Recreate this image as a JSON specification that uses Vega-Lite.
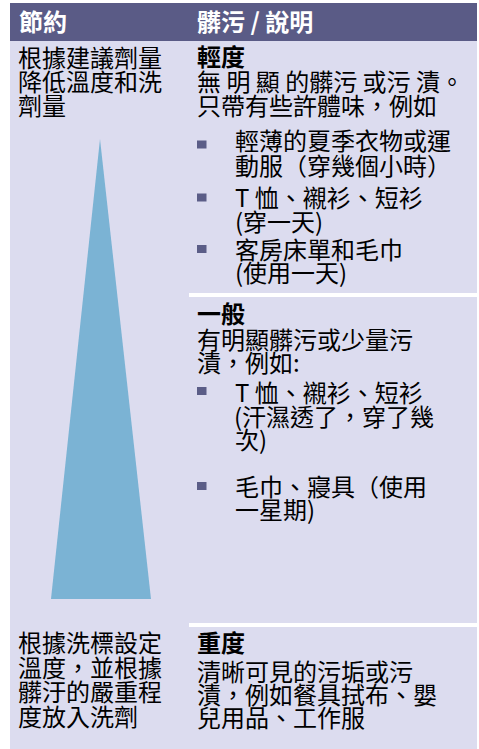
{
  "$schema": "https://vega.github.io/schema/vega-lite/v6.json",
  "width": 479,
  "height": 749,
  "autosize": {"type": "fit", "contains": "padding"},
  "padding": 0,
  "background": "white",
  "config": {"view": {"stroke": null}},
  "datasets": {
    "boxes": [
      {"kind": "panel", "x": 10, "x2": 477, "y": 3, "y2": 749},
      {"kind": "header", "x": 10, "x2": 477, "y": 3, "y2": 41},
      {"kind": "divider", "x": 189, "x2": 477, "y": 293, "y2": 297},
      {"kind": "divider", "x": 189, "x2": 477, "y": 623, "y2": 627},
      {"kind": "bullet", "x": 197, "x2": 206.5, "y": 140.5, "y2": 148.5},
      {"kind": "bullet", "x": 197, "x2": 206.5, "y": 193.5, "y2": 201.5},
      {"kind": "bullet", "x": 197, "x2": 206.5, "y": 245, "y2": 253},
      {"kind": "bullet", "x": 197, "x2": 206.5, "y": 387, "y2": 395},
      {"kind": "bullet", "x": 197, "x2": 206.5, "y": 482, "y2": 490}
    ],
    "wedge": [
      {"y": 139, "x": 100, "x2": 100},
      {"y": 599, "x": 51, "x2": 151}
    ],
    "lines": [
      {"kind": "header", "text": "節約", "x": 19, "y": 22},
      {"kind": "header", "text": "髒污 / 說明", "x": 197, "y": 22},
      {"kind": "body", "text": "根據建議劑量", "x": 18, "y": 57.5},
      {"kind": "body", "text": "降低溫度和洗", "x": 18, "y": 82},
      {"kind": "body", "text": "劑量", "x": 18, "y": 106},
      {"kind": "body", "text": "根據洗標設定", "x": 18, "y": 643},
      {"kind": "body", "text": "溫度，並根據", "x": 18, "y": 668},
      {"kind": "body", "text": "髒汙的嚴重程", "x": 18, "y": 692},
      {"kind": "body", "text": "度放入洗劑", "x": 18, "y": 717},
      {"kind": "heading", "text": "輕度", "x": 197, "y": 57},
      {"kind": "body", "text": "無 明 顯 的髒污 或污 漬。", "x": 197, "y": 82},
      {"kind": "body", "text": "只帶有些許體味，例如", "x": 197, "y": 106},
      {"kind": "body", "text": "輕薄的夏季衣物或運", "x": 235, "y": 141},
      {"kind": "body", "text": "動服（穿幾個小時）", "x": 235, "y": 166},
      {"kind": "body", "text": "T 恤、襯衫、短衫", "x": 235, "y": 198},
      {"kind": "body", "text": "(穿一天)", "x": 235, "y": 222},
      {"kind": "body", "text": "客房床單和毛巾", "x": 235, "y": 250},
      {"kind": "body", "text": "(使用一天)", "x": 235, "y": 273},
      {"kind": "heading", "text": "一般", "x": 197, "y": 314},
      {"kind": "body", "text": "有明顯髒污或少量污", "x": 197, "y": 340},
      {"kind": "body", "text": "漬，例如:", "x": 197, "y": 363},
      {"kind": "body", "text": "T 恤、襯衫、短衫", "x": 235, "y": 393},
      {"kind": "body", "text": "(汗濕透了，穿了幾", "x": 234, "y": 417},
      {"kind": "body", "text": "次)", "x": 235, "y": 440},
      {"kind": "body", "text": "毛巾、寢具（使用", "x": 235, "y": 487},
      {"kind": "body", "text": "一星期)", "x": 235, "y": 510},
      {"kind": "heading", "text": "重度", "x": 197, "y": 643},
      {"kind": "body", "text": "清晰可見的污垢或污", "x": 197, "y": 672},
      {"kind": "body", "text": "漬，例如餐具拭布、嬰", "x": 197, "y": 695},
      {"kind": "body", "text": "兒用品、工作服", "x": 197, "y": 718}
    ]
  },
  "layer": [
    {
      "data": {"name": "boxes"},
      "mark": {"type": "rect", "strokeWidth": 0},
      "encoding": {
        "x": {"field": "x", "type": "quantitative", "axis": null, "scale": {"domain": [0, 479], "nice": false, "zero": false}},
        "x2": {"field": "x2"},
        "y": {"field": "y", "type": "quantitative", "axis": null, "scale": {"domain": [0, 749], "nice": false, "zero": false, "reverse": true}},
        "y2": {"field": "y2"},
        "color": {
          "field": "kind", "type": "nominal", "legend": null,
          "scale": {"domain": ["panel", "header", "divider", "bullet"], "range": ["#dcdcef", "#5a5b86", "#ffffff", "#5b5d87"]}
        }
      }
    },
    {
      "data": {"name": "wedge"},
      "mark": {"type": "area", "orient": "horizontal", "color": "#7bb3d4", "opacity": 1},
      "encoding": {
        "y": {"field": "y", "type": "quantitative", "axis": null},
        "x": {"field": "x", "type": "quantitative", "axis": null},
        "x2": {"field": "x2"}
      }
    },
    {
      "data": {"name": "lines"},
      "transform": [{"filter": "datum.kind === 'header'"}],
      "mark": {"type": "text", "align": "left", "baseline": "middle", "font": "Noto Sans CJK TC", "fontSize": 24, "fontWeight": "bold", "color": "#ffffff", "dy": 2},
      "encoding": {
        "x": {"field": "x", "type": "quantitative", "axis": null},
        "y": {"field": "y", "type": "quantitative", "axis": null},
        "text": {"field": "text"}
      }
    },
    {
      "data": {"name": "lines"},
      "transform": [{"filter": "datum.kind === 'heading'"}],
      "mark": {"type": "text", "align": "left", "baseline": "middle", "font": "Noto Sans CJK TC", "fontSize": 24, "fontWeight": "bold", "color": "#000000", "dy": 2},
      "encoding": {
        "x": {"field": "x", "type": "quantitative", "axis": null},
        "y": {"field": "y", "type": "quantitative", "axis": null},
        "text": {"field": "text"}
      }
    },
    {
      "data": {"name": "lines"},
      "transform": [{"filter": "datum.kind === 'body'"}],
      "mark": {"type": "text", "align": "left", "baseline": "middle", "font": "Noto Sans CJK TC", "fontSize": 24, "fontWeight": "normal", "color": "#000000", "dy": 2},
      "encoding": {
        "x": {"field": "x", "type": "quantitative", "axis": null},
        "y": {"field": "y", "type": "quantitative", "axis": null},
        "text": {"field": "text"}
      }
    }
  ]
}
